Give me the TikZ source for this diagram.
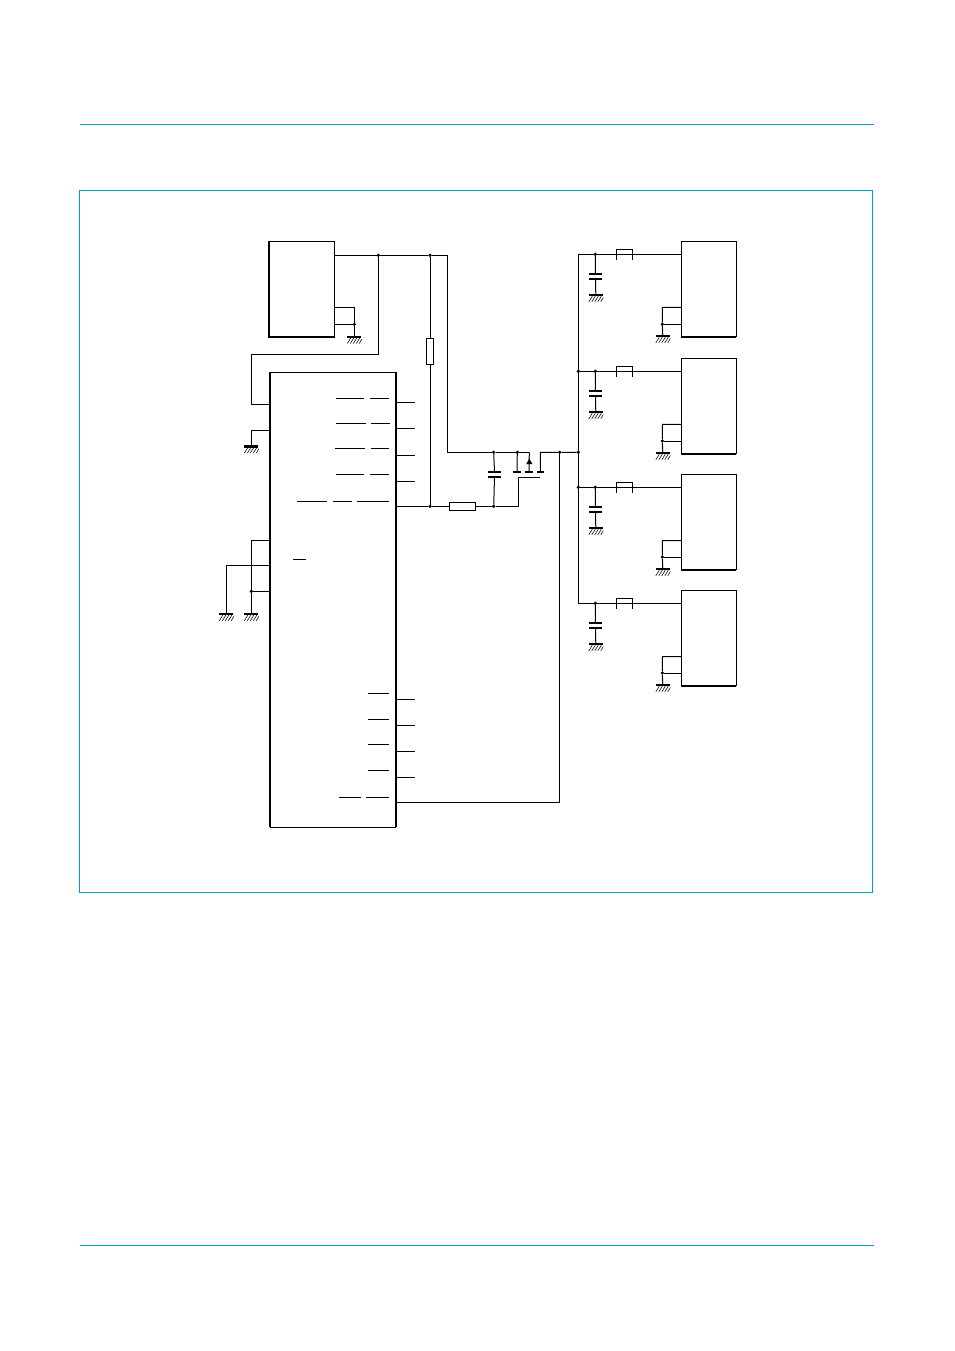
\documentclass[tikz,border=0pt]{standalone}
\usepackage{tikz}
\definecolor{rulecyan}{RGB}{0,160,198}

\begin{document}
\begin{tikzpicture}[x=1pt,y=-1pt,line width=1pt]
    \tikzstyle{every node}+=[inner sep=0pt,outer sep=0pt]
    \tikzstyle{box}=[draw,anchor=north west]
    \tikzstyle{res}=[draw,fill=white,line width=0.8pt]
    \tikzstyle{dot}=[circle,fill=black,minimum size=3.6pt]
    \tikzstyle{plate}=[fill=black,minimum height=2.4pt]
    \tikzstyle{fuse}=[minimum width=16pt,minimum height=10.4pt]
    \tikzstyle{bar}=[line width=1pt]
    \tikzset{gnd/.pic={
        \coordinate (-top) at (0,0);
        \fill [black] (-7,-1.2) rectangle (7,1.2);
        \draw [line width=0.55pt] (-3.5,1.2) -- (-7,6.8) (-0.5,1.2) -- (-4,6.8) (2.5,1.2) -- (-1,6.8) (5.5,1.2) -- (2,6.8) (7.5,2.5) -- (5,6.8);
    }}
    \useasboundingbox (0,0) rectangle (954,1351);
    \draw [rulecyan] (80,124.5) -- (874,124.5);
    \draw [rulecyan] (80,1245.5) -- (874,1245.5);
    \draw [rulecyan] (79.5,190.5) rectangle (872.5,892);
    \node [box,minimum width=65.3pt,minimum height=95.7pt] (reg) at (268.7,241.5) {};
    \draw [line width=2pt] (reg.north west) -- (reg.south west) -- (reg.south east);
    \draw (reg.north east) -- (reg.south east);
    \node [box,minimum width=125.7pt,minimum height=455pt] (ctrl) at (270,372.3) {};
    \draw [line width=2pt] (ctrl.north west) -- (ctrl.south west);
    \draw [line width=2pt] (ctrl.north east) -- (ctrl.south east);
    \node [dot] (tapA) at (378.3,255.3) {};
    \node [dot] (tapB) at (430,255.3) {};
    \coordinate (railC) at (447.3,255.3);
    \coordinate (railD) at (447.3,452.3);
    \draw (reg.east |- tapA) -- (tapA) -- (tapB) -- (railC) -- (railD);
    \coordinate (regA) at (334,307.3);
    \node [dot] (regB) at (354.3,324.3) {};
    \pic (gndA) at (354.3,336.7) {gnd};
    \draw (regA) -| (regB) -- (gndA-top);
    \draw (reg.east |- regB) -- (regB);
    \coordinate (vccA) at (378.3,354.3);
    \coordinate (vccB) at (251.3,354.3);
    \coordinate (vccC) at (251.3,404);
    \draw (tapA) -- (vccA) -- (vccB) -- (vccC) -- (ctrl.west |- vccC);
    \coordinate (vssA) at (251.3,430.3);
    \pic (gndB) at (251.3,446.3) {gnd};
    \draw (ctrl.west |- vssA) -- (vssA) -- (gndB-top);
    \coordinate (modeA) at (251.3,540.3);
    \coordinate (modeB) at (226.3,565.3);
    \node [dot] (modeC) at (251.3,591.3) {};
    \pic (gndC) at (226.3,614) {gnd};
    \pic (gndD) at (251.3,614) {gnd};
    \draw (ctrl.west |- modeA) -- (modeA) -- (modeC) -- (gndD-top);
    \draw (ctrl.west |- modeB) -- (modeB) -- (gndC-top);
    \draw (ctrl.west |- modeC) -- (modeC);
    \coordinate (pinA) at (415,402.3);
    \coordinate (pinB) at (415,428.3);
    \coordinate (pinC) at (415,455.3);
    \coordinate (pinD) at (415,481.3);
    \coordinate (pinE) at (415,699.3);
    \coordinate (pinF) at (415,725.3);
    \coordinate (pinG) at (415,751.3);
    \coordinate (pinH) at (415,777.3);
    \draw (ctrl.east |- pinA) -- (pinA);
    \draw (ctrl.east |- pinB) -- (pinB);
    \draw (ctrl.east |- pinC) -- (pinC);
    \draw (ctrl.east |- pinD) -- (pinD);
    \draw (ctrl.east |- pinE) -- (pinE);
    \draw (ctrl.east |- pinF) -- (pinF);
    \draw (ctrl.east |- pinG) -- (pinG);
    \draw (ctrl.east |- pinH) -- (pinH);
    \draw [bar] (336,398.3) -- (364,398.3) (370,398.3) -- (389,398.3);
    \draw [bar] (336,423.3) -- (366,423.3) (371,423.3) -- (390,423.3);
    \draw [bar] (335,448.3) -- (365,448.3) (371,448.3) -- (389,448.3);
    \draw [bar] (336,474.5) -- (364,474.5) (370,474.5) -- (389,474.5);
    \draw [bar] (297,501.3) -- (327,501.3) (333,501.3) -- (352,501.3) (357,501.3) -- (389,501.3);
    \draw [bar] (293,559.3) -- (306,559.3);
    \draw [bar] (368,693.3) -- (389,693.3);
    \draw [bar] (368,719.3) -- (389,719.3);
    \draw [bar] (368,744.3) -- (389,744.3);
    \draw [bar] (368,770.3) -- (389,770.3);
    \draw [bar] (339,797.3) -- (361,797.3) (366,797.3) -- (389,797.3);
    \node [res,minimum width=7.4pt,minimum height=26pt] (resA) at (430,351.3) {};
    \node [dot] (gateA) at (430,506.3) {};
    \node [res,minimum width=26.4pt,minimum height=8pt] (resB) at (462.5,506.3) {};
    \node [dot] (gateB) at (493.7,506.3) {};
    \draw (tapB) -- (resA);
    \draw (resA) -- (gateA);
    \draw (ctrl.east |- gateA) -- (gateA) -- (resB) -- (gateB);
    \node [dot] (drainA) at (493.7,452.3) {};
    \node [dot] (drainB) at (517.3,452.3) {};
    \coordinate (drainC) at (529.3,452.3);
    \draw (railD) -- (drainA) -- (drainB) -- (drainC);
    \node [plate,minimum width=13pt] (capGa) at (494.5,472) {};
    \node [plate,minimum width=13pt] (capGb) at (494.5,477) {};
    \draw (drainA) -- (capGa);
    \draw (capGb) -- (gateB);
    \node [plate,minimum width=8pt] (fetA) at (517,472) {};
    \node [plate,minimum width=8pt] (fetB) at (529,472) {};
    \node [plate,minimum width=7pt] (fetC) at (540.5,472) {};
    \draw (drainB) -- (fetA);
    \draw (drainC) -- (fetB);
    \fill [black] (529.3,458.7) -- (532.5,464.2) -- (526.1,464.2) -- cycle;
    \coordinate (gateC) at (518.3,477.3);
    \coordinate (gateD) at (539.7,477.3);
    \draw (gateB) -| (gateC) -- (gateD);
    \coordinate (outA) at (540.3,452.3);
    \node [dot] (outB) at (559.7,452.3) {};
    \node [dot] (outC) at (578.3,452.3) {};
    \coordinate (senseA) at (559.7,802.3);
    \draw (fetC) -- (outA) -- (outB) -- (outC);
    \draw (outB) -- (senseA) -- (ctrl.east |- senseA);
    \coordinate (busA) at (578.3,254.3);
    \node [dot] (busB) at (578.3,371.3) {};
    \node [dot] (busC) at (578.3,487.3) {};
    \coordinate (busD) at (578.3,603.3);
    \draw (busA) -- (busB) -- (outC) -- (busC) -- (busD);
    \node [box,minimum width=55pt,minimum height=95.5pt] (ledA) at (681.3,241.3) {};
    \draw [line width=2pt] (ledA.south west) -- (ledA.south east);
    \node [dot] (tapLa) at (595.3,254.3) {};
    \node [fuse] (fuseA) at (624.3,254.5) {};
    \draw (busA) -- (tapLa) -- (ledA.west |- tapLa);
    \draw (fuseA.south west) |- (fuseA.north east) -- (fuseA.south east);
    \node [plate,minimum width=13pt] (capAa) at (595.5,274) {};
    \node [plate,minimum width=13pt] (capAb) at (595.5,279) {};
    \pic (gndLa) at (595.8,295) {gnd};
    \draw (tapLa) -- (capAa);
    \draw (capAb) -- (gndLa-top);
    \coordinate (retAa) at (662.3,307.3);
    \node [dot] (retAb) at (662.3,324.3) {};
    \pic (gndRa) at (662.8,336) {gnd};
    \draw (ledA.west |- retAa) -- (retAa) -- (retAb) -- (gndRa-top);
    \draw (retAb) -- (ledA.west |- retAb);
    \node [box,minimum width=55pt,minimum height=95.5pt] (ledB) at (681.3,358.3) {};
    \draw [line width=2pt] (ledB.south west) -- (ledB.south east);
    \node [dot] (tapLb) at (595.3,371.3) {};
    \node [fuse] (fuseB) at (624.3,371.5) {};
    \draw (busB) -- (tapLb) -- (ledB.west |- tapLb);
    \draw (fuseB.south west) |- (fuseB.north east) -- (fuseB.south east);
    \node [plate,minimum width=13pt] (capBa) at (595.5,391) {};
    \node [plate,minimum width=13pt] (capBb) at (595.5,396) {};
    \pic (gndLb) at (595.8,412) {gnd};
    \draw (tapLb) -- (capBa);
    \draw (capBb) -- (gndLb-top);
    \coordinate (retBa) at (662.3,424.3);
    \node [dot] (retBb) at (662.3,441) {};
    \pic (gndRb) at (662.8,453) {gnd};
    \draw (ledB.west |- retBa) -- (retBa) -- (retBb) -- (gndRb-top);
    \draw (retBb) -- (ledB.west |- retBb);
    \node [box,minimum width=55pt,minimum height=95.5pt] (ledC) at (681.3,474.3) {};
    \draw [line width=2pt] (ledC.south west) -- (ledC.south east);
    \node [dot] (tapLc) at (595.3,487.3) {};
    \node [fuse] (fuseC) at (624.3,487.5) {};
    \draw (busC) -- (tapLc) -- (ledC.west |- tapLc);
    \draw (fuseC.south west) |- (fuseC.north east) -- (fuseC.south east);
    \node [plate,minimum width=13pt] (capCa) at (595.5,507) {};
    \node [plate,minimum width=13pt] (capCb) at (595.5,512) {};
    \pic (gndLc) at (595.8,528) {gnd};
    \draw (tapLc) -- (capCa);
    \draw (capCb) -- (gndLc-top);
    \coordinate (retCa) at (662.3,540.5);
    \node [dot] (retCb) at (662.3,557) {};
    \pic (gndRc) at (662.8,569) {gnd};
    \draw (ledC.west |- retCa) -- (retCa) -- (retCb) -- (gndRc-top);
    \draw (retCb) -- (ledC.west |- retCb);
    \node [box,minimum width=55pt,minimum height=95.5pt] (ledD) at (681.3,590.3) {};
    \draw [line width=2pt] (ledD.south west) -- (ledD.south east);
    \node [dot] (tapLd) at (595.3,603.3) {};
    \node [fuse] (fuseD) at (624.3,603.5) {};
    \draw (busD) -- (tapLd) -- (ledD.west |- tapLd);
    \draw (fuseD.south west) |- (fuseD.north east) -- (fuseD.south east);
    \node [plate,minimum width=13pt] (capDa) at (595.5,623) {};
    \node [plate,minimum width=13pt] (capDb) at (595.5,628) {};
    \pic (gndLd) at (595.8,644) {gnd};
    \draw (tapLd) -- (capDa);
    \draw (capDb) -- (gndLd-top);
    \coordinate (retDa) at (662.3,656.5);
    \node [dot] (retDb) at (662.3,673) {};
    \pic (gndRd) at (662.8,685) {gnd};
    \draw (ledD.west |- retDa) -- (retDa) -- (retDb) -- (gndRd-top);
    \draw (retDb) -- (ledD.west |- retDb);
\end{tikzpicture}
\end{document}
